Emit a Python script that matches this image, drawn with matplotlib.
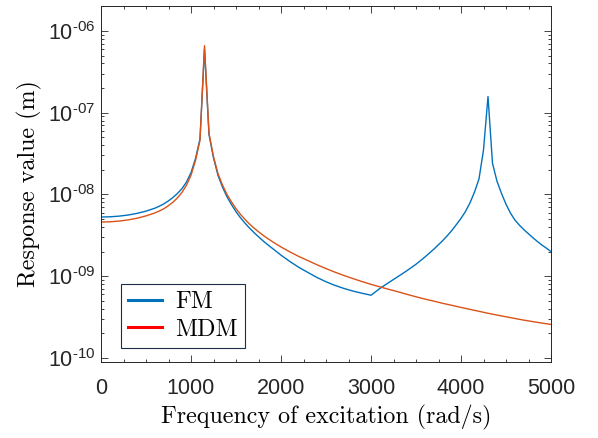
import matplotlib
matplotlib.use("Agg")
import matplotlib.pyplot as plt
from matplotlib.ticker import FixedLocator, MultipleLocator, LogLocator, NullFormatter
from matplotlib.lines import Line2D

# ---- data ----
fm_freq = [0, 100, 200, 300, 400, 500, 600, 650, 700, 750, 800, 850, 900, 950, 1000,
           1050, 1100, 1150, 1200, 1250, 1300, 1350, 1400, 1450, 1500, 1550, 1600,
           1650, 1700, 1750, 1800, 1850, 1900, 1950, 2000, 2100, 2200, 2300, 2400,
           2500, 2600, 2700, 2800, 2900, 3000, 3100, 3200, 3300, 3400, 3500, 3600,
           3700, 3800, 3850, 3900, 3950, 4000, 4050, 4100, 4150, 4200, 4250, 4300,
           4350, 4400, 4450, 4500, 4550, 4600, 4650, 4700, 4750, 4800, 4850, 4900,
           4950, 5000]
fm_resp = [5.3e-9, 5.33e-9, 5.43e-9, 5.6e-9, 5.87e-9, 6.25e-9, 6.8e-9, 7.2e-9, 7.7e-9,
           8.35e-9, 9.2e-9, 1.03e-8, 1.18e-8, 1.42e-8, 1.85e-8,
           2.75e-8, 4.8e-8, 6.0e-7, 5.4e-8, 2.8e-8, 1.71e-8, 1.23e-8, 9.35e-9, 7.5e-9,
           6.15e-9, 5.18e-9, 4.46e-9, 3.88e-9, 3.42e-9, 3.04e-9, 2.71e-9, 2.44e-9,
           2.21e-9, 2.0e-9, 1.81e-9, 1.51e-9, 1.28e-9, 1.11e-9, 9.65e-10,
           8.55e-10, 7.72e-10, 7.08e-10, 6.58e-10, 6.19e-10, 5.85e-10, 7.1e-10, 8.4e-10,
           9.9e-10, 1.17e-9, 1.4e-9, 1.72e-9, 2.15e-9, 2.75e-9, 3.15e-9, 3.65e-9,
           4.3e-9, 5.1e-9, 6.2e-9, 7.9e-9, 1.07e-8, 1.55e-8, 3.5e-8, 1.58e-7,
           2.4e-8, 1.45e-8, 1.03e-8, 7.6e-9, 5.9e-9, 4.85e-9, 4.2e-9, 3.7e-9,
           3.3e-9, 2.95e-9, 2.65e-9, 2.4e-9, 2.2e-9, 2.0e-9]

mdm_freq = [0, 100, 200, 300, 400, 500, 600, 650, 700, 750, 800, 850, 900, 950, 1000,
            1050, 1100, 1150, 1200, 1250, 1300, 1350, 1400, 1450, 1500, 1550, 1600,
            1650, 1700, 1750, 1800, 1850, 1900, 1950, 2000, 2100, 2200, 2300, 2400,
            2500, 2600, 2700, 2800, 2900, 3000, 3100, 3200, 3300, 3400, 3500, 3600,
            3700, 3800, 3900, 4000, 4100, 4200, 4300, 4400, 4500, 4600, 4700, 4800,
            4900, 5000]
mdm_resp = [4.6e-9, 4.63e-9, 4.72e-9, 4.88e-9, 5.12e-9, 5.47e-9, 5.95e-9, 6.3e-9, 6.7e-9,
            7.3e-9, 8.05e-9, 9.1e-9, 1.06e-8, 1.3e-8, 1.72e-8,
            2.6e-8, 4.6e-8, 6.6e-7, 5.6e-8, 2.9e-8, 1.8e-8, 1.3e-8, 1.0e-8, 8.1e-9,
            6.7e-9, 5.7e-9, 4.95e-9, 4.35e-9, 3.88e-9, 3.5e-9, 3.17e-9, 2.9e-9, 2.67e-9,
            2.46e-9, 2.28e-9, 1.98e-9, 1.74e-9, 1.55e-9, 1.38e-9,
            1.24e-9, 1.12e-9, 1.02e-9, 9.35e-10, 8.6e-10, 7.95e-10, 7.4e-10, 6.9e-10,
            6.45e-10, 6.0e-10, 5.6e-10, 5.25e-10, 4.95e-10, 4.65e-10, 4.4e-10,
            4.15e-10, 3.93e-10, 3.72e-10, 3.52e-10, 3.35e-10, 3.19e-10, 3.04e-10,
            2.9e-10, 2.78e-10, 2.67e-10, 2.57e-10]

x_ticks = [0, 1000, 2000, 3000, 4000, 5000]
y_ticks = [1e-10, 1e-9, 1e-8, 1e-7, 1e-6]
y_tick_labels = [r"$\mathregular{10^{‐10}}$", r"$\mathregular{10^{‐09}}$",
                 r"$\mathregular{10^{‐08}}$", r"$\mathregular{10^{‐07}}$",
                 r"$\mathregular{10^{‐06}}$"]
series_names = ["FM", "MDM"]

# ---- styling ----
plt.rcParams["font.family"] = ["Liberation Sans", "DejaVu Sans"]
plt.rcParams["mathtext.default"] = "regular"
plt.rcParams["axes.unicode_minus"] = False
axcol = "#262626"

fig = plt.figure(figsize=(5.98, 4.38), dpi=100)
ax = fig.add_axes([101 / 598, 1 - 361.7 / 438, 450 / 598, 355.7 / 438])

ax.plot(fm_freq, fm_resp, color="#0072BD", lw=1.0)
ax.plot(mdm_freq, mdm_resp, color="#D95319", lw=1.0)

ax.set_yscale("log")
ax.set_xlim(0, 5000)
ax.set_ylim(9.0e-11, 2.02e-6)

ax.xaxis.set_major_locator(FixedLocator(x_ticks))
ax.xaxis.set_minor_locator(MultipleLocator(250))
ax.yaxis.set_major_locator(FixedLocator(y_ticks))
ax.set_yticklabels(y_tick_labels)
ax.yaxis.set_minor_locator(LogLocator(base=10, subs=range(2, 10), numticks=20))
ax.yaxis.set_minor_formatter(NullFormatter())

ax.tick_params(which="both", direction="in", top=True, right=True, colors=axcol,
               width=0.6, labelsize=15.5, labelcolor=axcol)
ax.tick_params(which="major", length=5)
ax.tick_params(which="minor", length=2.5)
ax.tick_params(axis="x", pad=12)
ax.tick_params(axis="y", pad=4)
for s in ax.spines.values():
    s.set_color(axcol)
    s.set_linewidth(0.7)

serif = ["cmr10", "DejaVu Serif"]
ax.set_xlabel("Frequency of excitation (rad/s)", family=serif, fontsize=17.3,
              color="black", labelpad=4)
ax.set_ylabel("Response value (m)", family=serif, fontsize=17.3, color="black",
              labelpad=4)

handles = [Line2D([], [], color="#0072BD", lw=2.2),
           Line2D([], [], color="#FF0000", lw=2.2)]
leg = ax.legend(handles, series_names, loc="lower left",
                bbox_to_anchor=(20 / 450, (361.7 - 348) / 355.7),
                prop={"family": serif, "size": 17.3}, fancybox=False,
                framealpha=1, edgecolor="#1f2d4d", handlelength=1.4,
                borderpad=0.3, labelspacing=0.22, borderaxespad=0,
                handletextpad=0.55)
leg.get_frame().set_linewidth(0.8)

fig.savefig("out.png", dpi=100)
